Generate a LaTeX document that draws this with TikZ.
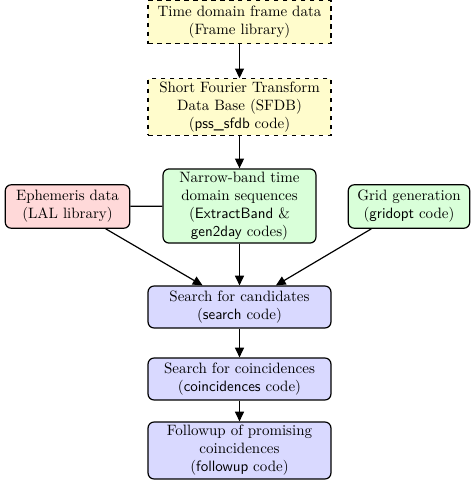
\documentclass[tikz,border=0pt]{standalone}
\usetikzlibrary{arrows.meta}
\begin{document}
\begin{tikzpicture}[x=0.667pt,y=-0.667pt,
  base/.style={draw=black,line width=0.8pt,align=center,inner sep=2pt,font=\normalsize},
  dbox/.style={base,dashed,fill=yellow!20,minimum width=122pt},
  rbox/.style={base,rounded corners=4pt},
  bluebox/.style={rbox,fill=blue!15,minimum width=122pt},
  greenbox/.style={rbox,fill=green!15},
  redbox/.style={rbox,fill=red!15},
  arr/.style={line width=0.8pt,-{Triangle[length=6.5pt,width=6pt]}},
  con/.style={line width=0.8pt}]
\useasboundingbox (0,0) rectangle (473,480);
\node[dbox,minimum height=29pt] (frame) at (239.5,22) {Time domain frame data\\(Frame library)};
\node[dbox,minimum height=37pt] (sfdb) at (239.5,107) {Short Fourier Transform\\Data Base (SFDB)\\(\textsf{pss\_sfdb} code)};
\node[greenbox,minimum width=102pt,minimum height=48pt] (nb) at (239.5,206) {Narrow-band time\\domain sequences\\(\textsf{ExtractBand} \&\\\textsf{gen2day} codes)};
\node[redbox,minimum width=83pt,minimum height=29pt] (eph) at (67.5,206.5) {Ephemeris data\\(LAL library)};
\node[greenbox,minimum width=81pt,minimum height=29pt] (grid) at (409,206.5) {Grid generation\\(\textsf{gridopt} code)};
\node[bluebox,minimum height=28pt] (search) at (239.5,307) {Search for candidates\\(\textsf{search} code)};
\node[bluebox,minimum height=28pt] (coinc) at (239.5,379) {Search for coincidences\\(\textsf{coincidences} code)};
\node[bluebox,minimum height=38pt] (follow) at (239.5,450.5) {Followup of promising\\coincidences\\(\textsf{followup} code)};
\draw[arr] (frame) -- (sfdb);
\draw[arr] (sfdb) -- (nb);
\draw[con] (eph) -- (nb);
\draw[arr] (nb) -- (search);
\draw[arr] (eph) -- (search);
\draw[arr] (grid) -- (search);
\draw[arr] (search) -- (coinc);
\draw[arr] (coinc) -- (follow);
\end{tikzpicture}
\end{document}
